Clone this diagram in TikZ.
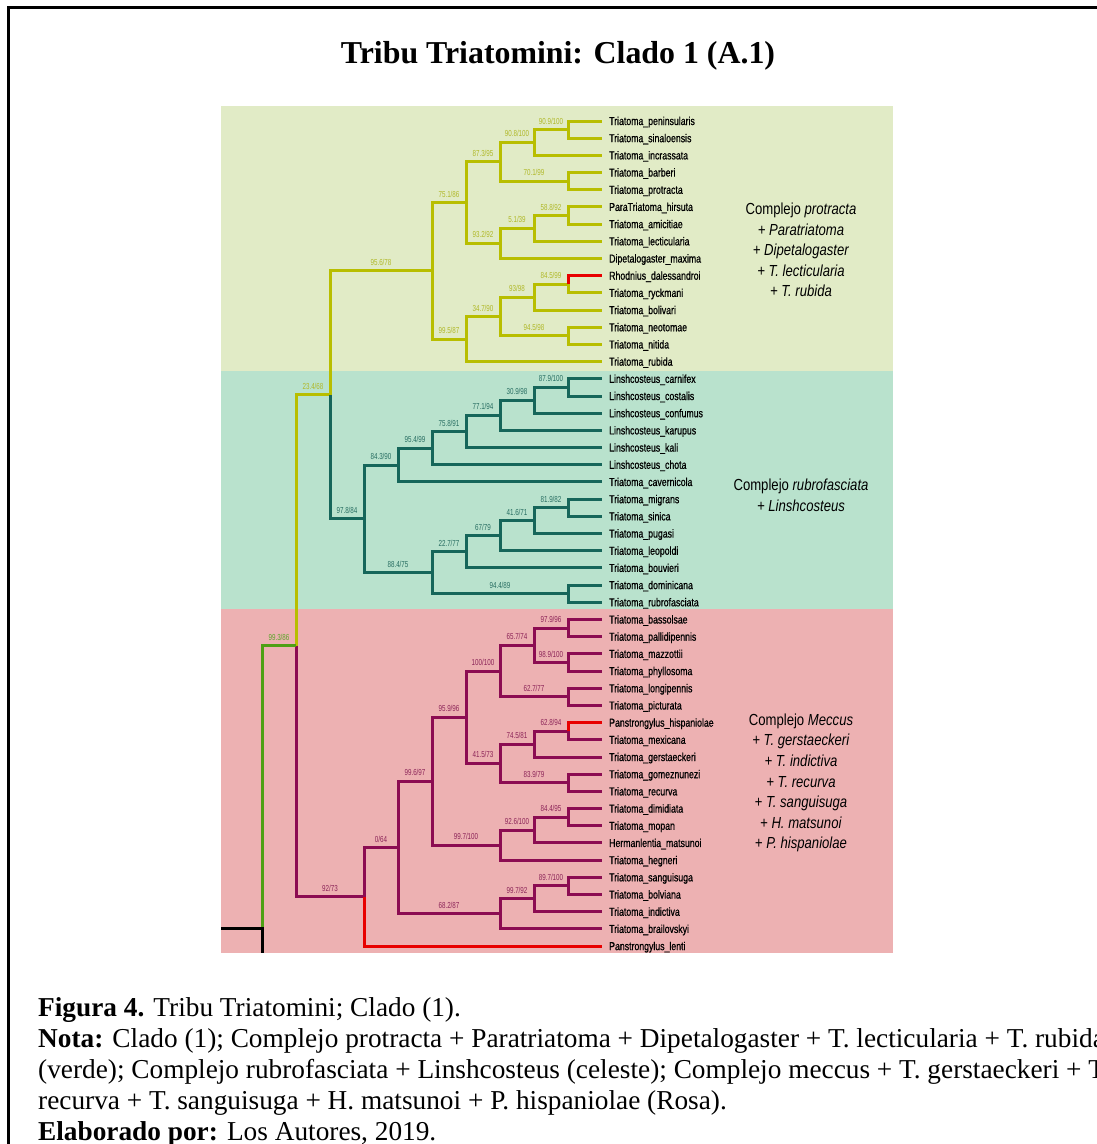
\documentclass[tikz,border=0pt]{standalone}
\usepackage{fontspec}
\setmainfont{Liberation Serif}
\newfontfamily\labfont[FakeStretch=0.76,FakeBold=0.7]{Liberation Sans}
\newfontfamily\bsfont[FakeStretch=0.72]{Liberation Sans}
\newfontfamily\annfont[FakeStretch=0.82]{Liberation Sans}
\definecolor{ybr}{RGB}{184,190,0}
\definecolor{ylab}{RGB}{176,184,40}
\definecolor{tbr}{RGB}{22,102,90}
\definecolor{tlab}{RGB}{40,110,98}
\definecolor{mbr}{RGB}{140,12,82}
\definecolor{mlab}{RGB}{140,36,88}
\definecolor{rbr}{RGB}{232,0,0}
\definecolor{gbr}{RGB}{78,160,20}
\definecolor{glab}{RGB}{90,165,40}
\definecolor{ybg}{RGB}{225,235,198}
\definecolor{tbg}{RGB}{185,226,205}
\definecolor{pbg}{RGB}{237,177,178}
\newcommand\mkleaf[3]{\coordinate (#1) at (602,#2); \node[taxon] (t#1) at (609,#2+4) {#3};}
\newcommand\mkbs[5]{\node[bs,text=#4] (b#1) at (#2,#3-5.5) {#5};}
\begin{document}
\begin{tikzpicture}[x=1pt,y=-1pt,
  br/.style={line width=3pt},
  yb/.style={br,draw=ybr},
  tb/.style={br,draw=tbr},
  mb/.style={br,draw=mbr},
  rb/.style={br,draw=rbr},
  gb/.style={br,draw=gbr},
  kb/.style={br,draw=black},
  taxon/.style={anchor=base west,inner sep=0pt,font=\labfont\fontsize{11.5}{12}\selectfont},
  bs/.style={anchor=base,inner sep=0pt,font=\bsfont\fontsize{8.7}{9}\selectfont},
  ann/.style={align=center,inner sep=0pt,font=\annfont\fontsize{16}{20.6}\selectfont},
  captext/.style={anchor=base west,inner sep=0pt,font=\fontsize{27.3}{31}\selectfont}]
\useasboundingbox (0,0) rectangle (1096,1144);
\fill[white] (0,0) rectangle (1096,1144);
\draw[line width=3pt] (8,1150) -- (8,7) -- (1100,7);
\node[anchor=base,inner sep=0pt,font=\bfseries\fontsize{31.85}{36}\selectfont] (title) at (558,63.5) {Tribu Triatomini: Clado 1 (A.1)};
% panels
\fill[ybg] (221,106) rectangle (893,370.5);
\fill[tbg] (221,370.5) rectangle (893,609);
\fill[pbg] (221,609) rectangle (893,953);
% leaves
\mkleaf{L1}{121.00}{Triatoma\_peninsularis}
\mkleaf{L2}{138.19}{Triatoma\_sinaloensis}
\mkleaf{L3}{155.38}{Triatoma\_incrassata}
\mkleaf{L4}{172.57}{Triatoma\_barberi}
\mkleaf{L5}{189.76}{Triatoma\_protracta}
\mkleaf{L6}{206.95}{ParaTriatoma\_hirsuta}
\mkleaf{L7}{224.14}{Triatoma\_amicitiae}
\mkleaf{L8}{241.33}{Triatoma\_lecticularia}
\mkleaf{L9}{258.52}{Dipetalogaster\_maxima}
\mkleaf{L10}{275.71}{Rhodnius\_dalessandroi}
\mkleaf{L11}{292.90}{Triatoma\_ryckmani}
\mkleaf{L12}{310.09}{Triatoma\_bolivari}
\mkleaf{L13}{327.28}{Triatoma\_neotomae}
\mkleaf{L14}{344.47}{Triatoma\_nitida}
\mkleaf{L15}{361.66}{Triatoma\_rubida}
\mkleaf{L16}{378.85}{Linshcosteus\_carnifex}
\mkleaf{L17}{396.04}{Linshcosteus\_costalis}
\mkleaf{L18}{413.23}{Linshcosteus\_confumus}
\mkleaf{L19}{430.42}{Linshcosteus\_karupus}
\mkleaf{L20}{447.61}{Linshcosteus\_kali}
\mkleaf{L21}{464.80}{Linshcosteus\_chota}
\mkleaf{L22}{481.99}{Triatoma\_cavernicola}
\mkleaf{L23}{499.18}{Triatoma\_migrans}
\mkleaf{L24}{516.37}{Triatoma\_sinica}
\mkleaf{L25}{533.56}{Triatoma\_pugasi}
\mkleaf{L26}{550.75}{Triatoma\_leopoldi}
\mkleaf{L27}{567.94}{Triatoma\_bouvieri}
\mkleaf{L28}{585.13}{Triatoma\_dominicana}
\mkleaf{L29}{602.32}{Triatoma\_rubrofasciata}
\mkleaf{L30}{619.51}{Triatoma\_bassolsae}
\mkleaf{L31}{636.70}{Triatoma\_pallidipennis}
\mkleaf{L32}{653.89}{Triatoma\_mazzottii}
\mkleaf{L33}{671.08}{Triatoma\_phyllosoma}
\mkleaf{L34}{688.27}{Triatoma\_longipennis}
\mkleaf{L35}{705.46}{Triatoma\_picturata}
\mkleaf{L36}{722.65}{Panstrongylus\_hispaniolae}
\mkleaf{L37}{739.84}{Triatoma\_mexicana}
\mkleaf{L38}{757.03}{Triatoma\_gerstaeckeri}
\mkleaf{L39}{774.22}{Triatoma\_gomeznunezi}
\mkleaf{L40}{791.41}{Triatoma\_recurva}
\mkleaf{L41}{808.60}{Triatoma\_dimidiata}
\mkleaf{L42}{825.79}{Triatoma\_mopan}
\mkleaf{L43}{842.98}{Hermanlentia\_matsunoi}
\mkleaf{L44}{860.17}{Triatoma\_hegneri}
\mkleaf{L45}{877.36}{Triatoma\_sanguisuga}
\mkleaf{L46}{894.55}{Triatoma\_bolviana}
\mkleaf{L47}{911.74}{Triatoma\_indictiva}
\mkleaf{L48}{928.93}{Triatoma\_brailovskyi}
\mkleaf{L49}{946.12}{Panstrongylus\_lenti}
% internal nodes
\coordinate (A1) at (568,129.6);
\coordinate (A2) at (534,142.49);
\coordinate (A3) at (568,181.17);
\coordinate (A4) at (500,161.83);
\coordinate (A5) at (568,215.55);
\coordinate (A6) at (534,228.44);
\coordinate (A7) at (500,243.48);
\coordinate (A8) at (466,202.66);
\coordinate (A9) at (568,284.31);
\coordinate (A10) at (534,297.2);
\coordinate (A11) at (568,335.88);
\coordinate (A12) at (500,316.54);
\coordinate (A13) at (466,339.1);
\coordinate (A14) at (432,270.88);
\coordinate (AB) at (330,394.9);
\coordinate (B1) at (568,387.45);
\coordinate (B2) at (534,400.34);
\coordinate (B3) at (500,415.38);
\coordinate (B4) at (466,431.5);
\coordinate (B5) at (432,448.15);
\coordinate (B6) at (398,465.07);
\coordinate (B7) at (568,507.78);
\coordinate (B8) at (534,520.67);
\coordinate (B9) at (500,535.71);
\coordinate (B10) at (466,551.83);
\coordinate (B11) at (568,593.73);
\coordinate (B12) at (432,572.78);
\coordinate (B13) at (364,518.93);
\coordinate (C1) at (568,628.11);
\coordinate (C2) at (568,662.49);
\coordinate (C3) at (534,645.3);
\coordinate (C4) at (568,696.87);
\coordinate (C5) at (500,671.08);
\coordinate (C6) at (568,731.25);
\coordinate (C7) at (534,744.14);
\coordinate (C8) at (568,782.82);
\coordinate (C9) at (500,763.48);
\coordinate (C10) at (466,717.28);
\coordinate (C11) at (568,817.2);
\coordinate (C12) at (534,830.09);
\coordinate (C13) at (500,845.13);
\coordinate (C14) at (432,781.2);
\coordinate (C15) at (568,885.96);
\coordinate (C16) at (534,898.85);
\coordinate (C17) at (500,913.89);
\coordinate (C18) at (398,847.55);
\coordinate (C19) at (364,896.83);
\coordinate (R1) at (296,645.87);
\coordinate (R0) at (262,928);
\coordinate (Rin) at (221,928);
\coordinate (Rdn) at (262,953);
% yellow clade
\foreach \p/\c in {A1/L1,A1/L2,A2/A1,A2/L3,A3/L4,A3/L5,A4/A2,A4/A3,A5/L6,A5/L7,A6/A5,A6/L8,A7/A6,A7/L9,A8/A4,A8/A7,A9/L11,A10/A9,A10/L12,A11/L13,A11/L14,A12/A10,A12/A11,A13/A12,A13/L15,A14/A8,A14/A13,AB/A14,R1/AB}
  \draw[yb] (\p) |- (\c);
\draw[rb] (A9) |- (L10);
% teal clade
\foreach \p/\c in {B1/L16,B1/L17,B2/B1,B2/L18,B3/B2,B3/L19,B4/B3,B4/L20,B5/B4,B5/L21,B6/B5,B6/L22,B7/L23,B7/L24,B8/B7,B8/L25,B9/B8,B9/L26,B10/B9,B10/L27,B11/L28,B11/L29,B12/B10,B12/B11,B13/B6,B13/B12,AB/B13}
  \draw[tb] (\p) |- (\c);
% maroon clade
\foreach \p/\c in {C1/L30,C1/L31,C2/L32,C2/L33,C3/C1,C3/C2,C4/L34,C4/L35,C5/C3,C5/C4,C6/L37,C7/C6,C7/L38,C8/L39,C8/L40,C9/C7,C9/C8,C10/C5,C10/C9,C11/L41,C11/L42,C12/C11,C12/L43,C13/C12,C13/L44,C14/C10,C14/C13,C15/L45,C15/L46,C16/C15,C16/L47,C17/C16,C17/L48,C18/C14,C18/C17,C19/C18,R1/C19}
  \draw[mb] (\p) |- (\c);
\draw[rb] (C6) |- (L36);
\draw[rb] (C19) |- (L49);
% root
\draw[gb] (R0) |- (R1);
\draw[kb] (Rin) -- (R0) -- (Rdn);
% support values
\mkbs{A1}{551}{129.6}{ylab}{90.9/100}
\mkbs{A2}{517}{142.49}{ylab}{90.8/100}
\mkbs{A3}{534}{181.17}{ylab}{70.1/99}
\mkbs{A4}{483}{161.83}{ylab}{87.3/95}
\mkbs{A5}{551}{215.55}{ylab}{58.8/92}
\mkbs{A6}{517}{228.44}{ylab}{5.1/39}
\mkbs{A7}{483}{243.48}{ylab}{93.2/92}
\mkbs{A8}{449}{202.66}{ylab}{75.1/86}
\mkbs{A9}{551}{284.31}{ylab}{84.5/99}
\mkbs{A10}{517}{297.2}{ylab}{93/98}
\mkbs{A11}{534}{335.88}{ylab}{94.5/98}
\mkbs{A12}{483}{316.54}{ylab}{34.7/90}
\mkbs{A13}{449}{339.1}{ylab}{99.5/87}
\mkbs{A14}{381}{270.88}{ylab}{95.6/78}
\mkbs{AB}{313}{394.9}{ylab}{23.4/68}
\mkbs{B1}{551}{387.45}{tlab}{87.9/100}
\mkbs{B2}{517}{400.34}{tlab}{30.9/98}
\mkbs{B3}{483}{415.38}{tlab}{77.1/94}
\mkbs{B4}{449}{431.5}{tlab}{75.8/91}
\mkbs{B5}{415}{448.15}{tlab}{95.4/99}
\mkbs{B6}{381}{465.07}{tlab}{84.3/90}
\mkbs{B7}{551}{507.78}{tlab}{81.9/82}
\mkbs{B8}{517}{520.67}{tlab}{41.6/71}
\mkbs{B9}{483}{535.71}{tlab}{67/79}
\mkbs{B10}{449}{551.83}{tlab}{22.7/77}
\mkbs{B11}{500}{593.73}{tlab}{94.4/89}
\mkbs{B12}{398}{572.78}{tlab}{88.4/75}
\mkbs{B13}{347}{518.93}{tlab}{97.8/84}
\mkbs{C1}{551}{628.11}{mlab}{97.9/96}
\mkbs{C2}{551}{662.49}{mlab}{98.9/100}
\mkbs{C3}{517}{645.3}{mlab}{65.7/74}
\mkbs{C4}{534}{696.87}{mlab}{62.7/77}
\mkbs{C5}{483}{671.08}{mlab}{100/100}
\mkbs{C6}{551}{731.25}{mlab}{62.8/94}
\mkbs{C7}{517}{744.14}{mlab}{74.5/81}
\mkbs{C8}{534}{782.82}{mlab}{83.9/79}
\mkbs{C9}{483}{763.48}{mlab}{41.5/73}
\mkbs{C10}{449}{717.28}{mlab}{95.9/96}
\mkbs{C11}{551}{817.2}{mlab}{84.4/95}
\mkbs{C12}{517}{830.09}{mlab}{92.6/100}
\mkbs{C13}{466}{845.13}{mlab}{99.7/100}
\mkbs{C14}{415}{781.2}{mlab}{99.6/97}
\mkbs{C15}{551}{885.96}{mlab}{89.7/100}
\mkbs{C16}{517}{898.85}{mlab}{99.7/92}
\mkbs{C17}{449}{913.89}{mlab}{68.2/87}
\mkbs{C18}{381}{847.55}{mlab}{0/64}
\mkbs{C19}{330}{896.83}{mlab}{92/73}
\mkbs{R1}{279}{645.87}{glab}{99.3/86}
% clade annotations
\node[ann] (annA) at (801,250) {Complejo \textit{protracta}\\\textit{+ Paratriatoma}\\\textit{+ Dipetalogaster}\\\textit{+ T. lecticularia}\\\textit{+ T. rubida}};
\node[ann] (annB) at (801,495) {Complejo \textit{rubrofasciata}\\\textit{+ Linshcosteus}};
\node[ann] (annC) at (801,783) {Complejo \textit{Meccus}\\\textit{+ T. gerstaeckeri}\\\textit{+ T. indictiva}\\\textit{+ T. recurva}\\\textit{+ T. sanguisuga}\\\textit{+ H. matsunoi}\\\textit{+ P. hispaniolae}};
% caption
\node[captext] (cap1) at (38,1016) {\textbf{Figura 4.} Tribu Triatomini; Clado (1).};
\node[captext] (cap2) at (38,1047) {\textbf{Nota:} Clado (1); Complejo protracta + Paratriatoma + Dipetalogaster + T. lecticularia + T. rubida};
\node[captext] (cap3) at (38,1078) {(verde); Complejo rubrofasciata + Linshcosteus (celeste); Complejo meccus + T. gerstaeckeri + T.};
\node[captext] (cap4) at (38,1109) {recurva + T. sanguisuga + H. matsunoi + P. hispaniolae (Rosa).};
\node[captext] (cap5) at (38,1140) {\textbf{Elaborado por:} Los Autores, 2019.};
\end{tikzpicture}
\end{document}
